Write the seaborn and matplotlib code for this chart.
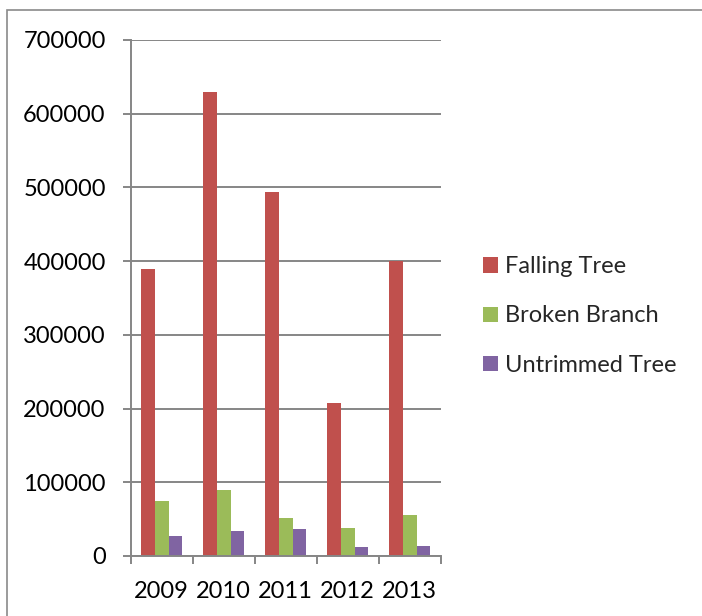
import matplotlib
matplotlib.use("Agg")
import matplotlib.pyplot as plt
from matplotlib.patches import Rectangle, Patch
from matplotlib.ticker import FixedLocator, NullFormatter
import seaborn as sns
import pandas as pd

# Yearly counts by cause
years = ["2009", "2010", "2011", "2012", "2013"]
series = ["Falling Tree", "Broken Branch", "Untrimmed Tree"]
falling_tree = [389000, 630000, 494000, 207000, 400000]
broken_branch = [75000, 89000, 52000, 38500, 55000]
untrimmed_tree = [27500, 34000, 36000, 12700, 13000]
colors = ["#C0504D", "#9BBB59", "#8064A2"]

df = pd.DataFrame({
    "year": years * 3,
    "cause": [s for s in series for _ in years],
    "value": falling_tree + broken_branch + untrimmed_tree,
})

sns.set_theme(style="white")
plt.rcParams["font.family"] = ["Lato", "DejaVu Sans"]

W, H = 702, 616
FS = 17
fig = plt.figure(figsize=(W / 100, H / 100), dpi=100)
ax = fig.add_axes([130.7 / W, (H - 556) / H, 310 / W, 516 / H])

sns.barplot(data=df, x="year", y="value", hue="cause", palette=colors,
            width=0.66, gap=0, saturation=1, ax=ax, legend=False,
            linewidth=0, errorbar=None)

grid_c = "#868686"
ax.set_ylim(0, 700000)
ax.set_xlim(-0.5, 4.5)
ax.set_yticks(range(0, 700001, 100000))
ax.set_yticklabels([str(v) for v in range(0, 700001, 100000)])
ax.yaxis.grid(True, color=grid_c, linewidth=1.4)
ax.set_axisbelow(True)
ax.set_xlabel("")
ax.set_ylabel("")

for side in ["top", "right"]:
    ax.spines[side].set_visible(False)
for side in ["left", "bottom"]:
    ax.spines[side].set_color(grid_c)
    ax.spines[side].set_linewidth(1.4)

ax.tick_params(axis="y", which="major", left=True, length=6, width=1.4,
               color=grid_c, labelsize=FS, pad=12, labelcolor="black")
ax.tick_params(axis="x", which="major", bottom=False, length=0,
               labelsize=FS, pad=18, labelcolor="black")
ax.xaxis.set_minor_locator(FixedLocator([i - 0.5 for i in range(6)]))
ax.xaxis.set_minor_formatter(NullFormatter())
ax.tick_params(axis="x", which="minor", bottom=True, length=6, width=1.4,
               color=grid_c)

handles = [Patch(facecolor=c, edgecolor="none", label=s)
           for c, s in zip(colors, series)]
fig.legend(handles=handles, loc="center left",
           bbox_to_anchor=(462 / W, 1 - 316 / H), frameon=False,
           fontsize=FS, handlelength=0.62, handleheight=0.62,
           handletextpad=0.3, labelspacing=1.2)

# Outer chart border
fig.patches.append(Rectangle((7 / W, -0.1), 1.2, 1 - 10 / H + 0.1,
                             transform=fig.transFigure, fill=False,
                             edgecolor="#8a8a8a", linewidth=1.2))

fig.savefig("out.png", dpi=100)
